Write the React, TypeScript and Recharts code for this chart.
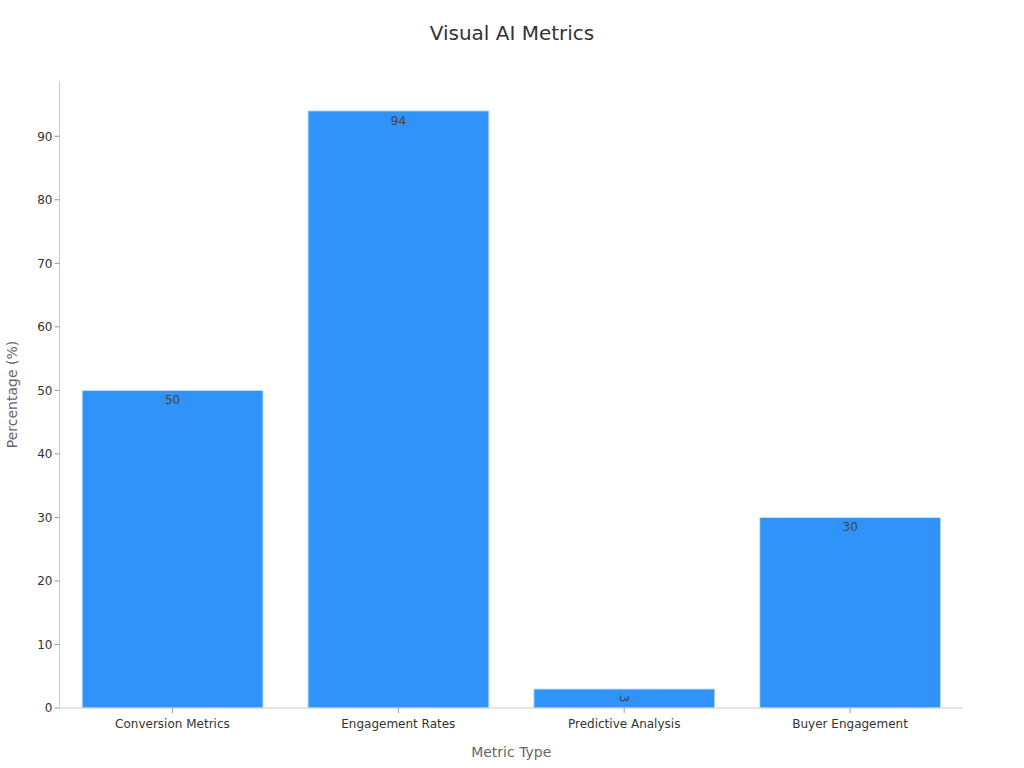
import { Bar, BarChart, LabelList, XAxis, YAxis } from 'recharts';

const CATEGORIES = ['Conversion Metrics', 'Engagement Rates', 'Predictive Analysis', 'Buyer Engagement'];
const VALUES = [50, 94, 3, 30];
const Y_TICKS = [0, 10, 20, 30, 40, 50, 60, 70, 80, 90];

const FONT = '"DejaVu Sans", sans-serif';

const data = CATEGORIES.map((name, i) => ({ name, value: VALUES[i] }));

// small bars get the value turned sideways, like the source chart
function ValueLabel(props: any) {
  const { x, y, width, height, value } = props;
  const cx = x + width / 2;
  if (height < 20) {
    const cy = y + height / 2;
    return (
      <text
        x={cx}
        y={cy}
        fill="#444"
        fontSize={12}
        fontFamily={FONT}
        textAnchor="middle"
        dominantBaseline="central"
        transform={`rotate(90 ${cx} ${cy})`}
      >
        {value}
      </text>
    );
  }
  return (
    <text x={cx} y={y + 10} fill="#444" fontSize={12} fontFamily={FONT} textAnchor="middle" dominantBaseline="central">
      {value}
    </text>
  );
}

export default function App() {
  return (
    <div style={{ position: 'absolute', left: 0, top: 0, width: 1024, height: 768, background: '#fff', fontFamily: FONT }}>
      <div
        style={{
          position: 'absolute',
          top: 21,
          left: 0,
          width: 1024,
          textAlign: 'center',
          fontSize: 20,
          color: '#333',
        }}
      >
        Visual AI Metrics
      </div>
      <BarChart
        width={1024}
        height={768}
        data={data}
        margin={{ top: 81, right: 61, left: 0, bottom: 0 }}
        barCategoryGap="10%"
      >
        <XAxis
          dataKey="name"
          height={60}
          tick={{ fill: '#333', fontSize: 12, fontFamily: FONT, dy: 4 }}
          tickLine={{ stroke: '#999' }}
          axisLine={{ stroke: '#ccc' }}
          tickSize={5}
          label={{ value: 'Metric Type', position: 'insideBottom', offset: 11, fill: '#666', fontSize: 14, fontFamily: FONT }}
        />
        <YAxis
          width={59.5}
          domain={[0, 98.7]}
          ticks={Y_TICKS}
          tick={{ fill: '#333', fontSize: 12, fontFamily: FONT }}
          tickLine={{ stroke: '#999' }}
          axisLine={{ stroke: '#ccc' }}
          tickSize={5}
          label={{
            value: 'Percentage (%)',
            angle: -90,
            position: 'insideLeft',
            offset: 12,
            style: { textAnchor: 'middle' },
            fill: '#666',
            fontSize: 14,
            fontFamily: FONT,
          }}
        />
        <Bar dataKey="value" fill="#2f93f9" stroke="#cfe5fc" strokeWidth={1} isAnimationActive={false}>
          <LabelList dataKey="value" content={ValueLabel} />
        </Bar>
      </BarChart>
    </div>
  );
}
